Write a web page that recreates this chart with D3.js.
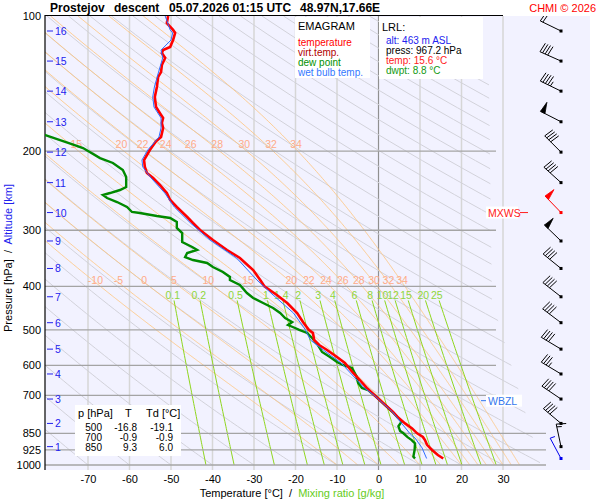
<!DOCTYPE html>
<html>
<head>
<meta charset="utf-8">
<script src="https://cdn.jsdelivr.net/npm/d3@7"></script>
<style>
body { margin: 0; background: #fff; }
text { font-family: Arial, "Liberation Sans", sans-serif; }
</style>
</head>
<body>
<svg id="chart" width="600" height="500"></svg>
<script>
// ---- data ----
var pressureTicks = [100, 200, 300, 400, 500, 600, 700, 850, 925, 1000];
var tempTicks = [-70, -60, -50, -40, -30, -20, -10, 0, 10, 20, 30];

var altKm = [1, 2, 3, 4, 5, 6, 7, 8, 9, 10, 11, 12, 13, 14, 15, 16];
var altP = [910, 808, 713, 627, 552, 482, 422, 365, 317, 274, 235, 201, 172, 147, 126, 108];

var tempP = [100, 103.7, 107.4, 109.1, 113.1, 117.2, 119.1, 120.9, 124, 128.6, 133.3, 136.7, 143.9, 151.5,
  159.5, 164.4, 168.7, 173.1, 177.6, 186, 190, 198.8, 204, 209.3, 216.9, 223.7, 229.5, 237.9, 247.9,
  256.9, 266.3, 280.3, 289.1, 299.6, 315.4, 332, 345.9, 367.9, 387.2, 400, 418.2, 435.7, 458.6, 480.3,
  500, 508.2, 526.8, 540.5, 554.5, 574.8, 592.7, 623.9, 646.7, 673.7, 700, 727.6, 762, 785, 808, 829,
  850, 866, 880, 902, 926, 950, 967.2];
var tempT = [-50.7, -51.0, -49.5, -49.0, -49.5, -50.2, -51.9, -52.2, -51.4, -52.2, -52.4, -53.1, -53.4, -53.9,
  -53.6, -52.7, -51.9, -52.2, -51.9, -52.4, -53.6, -55.1, -55.8, -56.5, -56.3, -55.8, -54.3, -52.7, -51.0,
  -50.2, -48.6, -46.1, -44.7, -43.0, -39.9, -36.5, -33.4, -30.2, -28.5, -27.5, -24.5, -22.0, -19.6, -18.2,
  -16.8, -15.8, -15.5, -14.3, -12.4, -10.0, -8.1, -6.1, -4.5, -2.8, -0.9, 1.1, 3.5, 4.8, 6.4, 8.1,
  9.3, 10.7, 11.2, 11.7, 12.9, 14.3, 15.6];

var dewP = [184, 192.8, 196.8, 207.2, 212.5, 220.3, 228.3, 240.3, 244.1, 247.9, 250.4, 254.3, 259.6, 266.3,
  273.2, 274.6, 278.9, 281.8, 287.6, 296.6, 304.3, 318.7, 326.9, 332, 337.2, 344.2, 349.5, 354.9, 362.3,
  371.7, 381.3, 387.2, 397.3, 414, 424.7, 435.7, 447, 458.6, 470.6, 480.3, 487.7, 495.3, 500, 508.2,
  521.4, 540.5, 560.2, 574.8, 589.7, 598.8, 608.1, 636.9, 656.9, 673.7, 680.7, 700, 727.6, 762, 785,
  800, 820, 840, 850, 867, 880, 895, 926, 958, 967.2];
var dewT = [-80.5, -73.9, -71.2, -67.1, -64.0, -61.6, -60.8, -60.8, -62.3, -64.7, -66.4, -65.4, -63.0, -60.6,
  -59.4, -57.5, -53.4, -50.2, -48.6, -48.6, -47.3, -47.3, -44.9, -43.7, -46.1, -46.6, -44.7, -41.3, -39.9,
  -37.5, -35.8, -35.8, -33.4, -31.7, -30.2, -27.8, -25.4, -23.7, -22.5, -20.8, -21.8, -20.1, -19.1, -17.2,
  -16.0, -14.6, -13.6, -11.7, -10.0, -8.6, -6.4, -5.2, -4.9, -4.0, -2.5, -0.9, 1.0, 3.4, 4.7,
  5.6, 4.8, 5.2, 6.0, 7.0, 8.0, 8.8, 8.7, 8.4, 8.8];

var wetP = [100, 107.4, 109.1, 113.1, 119.1, 124, 133.3, 143.9, 151.5, 159.5, 168.7, 177.6, 186, 198.8,
  209.3, 216.9, 229.5, 247.9, 266.3, 289.1, 315.4, 345.9, 387.2, 418.2, 458.6, 500, 526.8, 554.5,
  592.7, 646.7, 673.7, 700, 762, 802, 836, 850, 871, 916, 967.2];
var wetT = [-51.4, -50.2, -49.6, -50.0, -52.4, -52.0, -53.0, -54.0, -54.4, -54.1, -52.4, -52.4, -52.9, -55.6,
  -57.0, -56.8, -54.8, -51.5, -49.2, -45.3, -40.6, -34.2, -29.3, -25.4, -20.5, -17.6, -16.4, -13.3,
  -9.0, -5.2, -3.4, -1.0, 3.4, 5.3, 6.9, 7.5, 8.8, 10.5, 11.6];

// wind: 16 km ... 1 km, then launch point
var windP = [108, 126, 147, 172, 201, 235, 274, 317, 365, 422, 482, 552, 627, 713, 808, 910, 967.2];
var windDir = [296, 294, 296, 297, 315, 312, 316, 314, 309, 308, 307, 301, 301, 304, 310, 348, 332];
var windSpd = [20, 40, 45, 50, 40, 40, 50, 50, 40, 40, 40, 40, 35, 40, 40, 15, 5];
var mxwsIndex = 6;
var wbzlP = 719;

var thetaW = [-10, -5, 0, 5, 10, 15, 20, 22, 24, 26, 28, 30, 32, 34];
var mixRatios = [0.1, 0.2, 0.5, 1, 1.4, 2, 3, 4, 6, 8, 10, 12, 15, 20, 25];
var dryTheta = d3.range(-80, 260, 10);

var tableP = [500, 700, 850];
var tableT = ["-16.8", "-0.9", "9.3"];
var tableTd = ["-19.1", "-0.9", "6.0"];

var legendNames = ["temperature", "virt.temp.", "dew point", "wet bulb temp."];
var legendColors = ["#ff0000", "#b00000", "#009000", "#3377ff"];

// ---- layout ----
var svg = d3.select("#chart");
var plotL = 45, plotT = 16, plotR = 590, plotB = 470;

var x = d3.scaleLinear().domain([-80, 30]).range([46.5, 503]);
var y = d3.scaleLog().domain([100, 1000]).range([16, 465]);

var defs = svg.append("defs");
defs.append("clipPath").attr("id", "plotClip")
  .append("rect").attr("x", plotL).attr("y", plotT).attr("width", plotR - plotL).attr("height", plotB - plotT);
defs.append("clipPath").attr("id", "bgClip")
  .append("polygon").attr("points", "45,16 488,16 492,300 540,462 540,470 45,470");

svg.append("rect").attr("x", plotL).attr("y", plotT)
  .attr("width", plotR - plotL).attr("height", plotB - plotT)
  .attr("fill", "#f2f2ff");

// isotherms
svg.append("g").selectAll("line")
  .data(tempTicks).enter().append("line")
  .attr("x1", function(d) { return x(d); }).attr("x2", function(d) { return x(d); })
  .attr("y1", plotT).attr("y2", plotB)
  .attr("stroke", function(d) { return d == 0 ? "#909090" : "#d6d6d6"; })
  .attr("stroke-width", function(d) { return d == 0 ? 1.2 : 1.5; });

var bg = svg.append("g").attr("clip-path", "url(#bgClip)");

var line = d3.line()
  .x(function(d) { return x(d[1]); })
  .y(function(d) { return y(d[0]); });

var pLevels = d3.range(100, 1001, 10);

// dry adiabats
bg.selectAll(".dry")
  .data(dryTheta).enter().append("path")
  .attr("class", "dry")
  .attr("fill", "none").attr("stroke", "#d2d2da").attr("stroke-width", 1)
  .attr("d", function(th) {
    return line(pLevels.map(function(p) {
      return [p, (th + 273.15) * Math.pow(p / 1000, 0.2857) - 273.15];
    }));
  });

// pseudoadiabats
function dTdp(p, T) {
  var tc = T - 273.15;
  var es = 6.112 * Math.exp(17.67 * tc / (tc + 243.5));
  var rs = 0.622 * es / (p - es);
  return (287.04 * T + 2.501e6 * rs) /
    (p * (1005.7 + 2.501e6 * 2.501e6 * rs * 0.622 / (287.04 * T * T)));
}
function moistLine(tw) {
  var T = tw + 273.15, p = 1000, dp = -2, pts = [[p, tw]];
  while (p > 100) {
    var k1 = dTdp(p, T), k2 = dTdp(p + dp / 2, T + k1 * dp / 2),
        k3 = dTdp(p + dp / 2, T + k2 * dp / 2), k4 = dTdp(p + dp, T + k3 * dp);
    T += dp * (k1 + 2 * k2 + 2 * k3 + k4) / 6;
    p += dp;
    pts.push([p, T - 273.15]);
  }
  return pts;
}
var moist = thetaW.map(function(tw) { return { tw: tw, pts: moistLine(tw) }; });

bg.selectAll(".moist")
  .data(moist).enter().append("path")
  .attr("class", "moist")
  .attr("fill", "none").attr("stroke", "#ffc47a").attr("stroke-width", 0.8)
  .attr("d", function(d) { return line(d.pts); });

function tAt(pts, p) {
  var best = pts[0];
  pts.forEach(function(q) { if (Math.abs(q[0] - p) < Math.abs(best[0] - p)) best = q; });
  return best[1];
}

// mixing ratio lines
function tdFromW(w, p) {
  var e = w * p / (622 + w);
  var a = Math.log(e / 6.112);
  return 243.5 * a / (17.67 - a);
}
bg.selectAll(".mix")
  .data(mixRatios).enter().append("path")
  .attr("class", "mix")
  .attr("fill", "none").attr("stroke", "#8fd61e").attr("stroke-width", 1)
  .attr("d", function(w) {
    return line(d3.range(430, 1001, 10).map(function(p) { return [p, tdFromW(w, p)]; }));
  });

// isobars
svg.append("g").selectAll("line")
  .data(pressureTicks.slice(1)).enter().append("line")
  .attr("x1", plotL).attr("x2", function(p) { return p >= 850 ? 546 : 496; })
  .attr("y1", function(p) { return y(p); }).attr("y2", function(p) { return y(p); })
  .attr("stroke", "#a4a4a4").attr("stroke-width", 1.3);

// labels of the background lines
var lab = svg.append("g").style("font-size", "10.5px").attr("text-anchor", "middle");
moist.forEach(function(d) {
  var xu = x(tAt(d.pts, 198));
  if (xu > 60 && xu < 490)
    lab.append("text").attr("x", xu).attr("y", 148).attr("fill", "#ffab88").text(d.tw);
  var xl = x(tAt(d.pts, 392));
  lab.append("text").attr("x", xl).attr("y", 284).attr("fill", "#ffab88").text(d.tw);
});
mixRatios.forEach(function(w) {
  lab.append("text").attr("x", x(tdFromW(w, 415))).attr("y", 299)
    .attr("fill", "#8fd63a").text(w);
});

// axis frame
svg.append("line").attr("x1", plotL).attr("x2", 503).attr("y1", 15.5).attr("y2", 15.5)
  .attr("stroke", "#000").attr("stroke-width", 1.2);
svg.append("line").attr("x1", plotL).attr("x2", plotL).attr("y1", 15).attr("y2", plotB)
  .attr("stroke", "#000").attr("stroke-width", 1.2);

// pressure axis
var yAxis = svg.append("g").attr("transform", "translate(" + plotL + ",0)")
  .call(d3.axisLeft(y).tickValues(pressureTicks).tickSize(0).tickPadding(4)
    .tickFormat(function(d) { return String(d); }));
yAxis.select(".domain").remove();
yAxis.selectAll("text").style("font-size", "11px").attr("fill", "#000")
  .style("font-family", "Arial, 'Liberation Sans', sans-serif");

// temperature axis
var xAxis = svg.append("g").attr("transform", "translate(0," + 472 + ")")
  .call(d3.axisBottom(x).tickValues(tempTicks).tickSize(0).tickPadding(3)
    .tickFormat(function(d) { return String(d); }));
xAxis.select(".domain").remove();
xAxis.selectAll("text").style("font-size", "11px").attr("fill", "#000")
  .style("font-family", "Arial, 'Liberation Sans', sans-serif");

// altitude labels
var alt = svg.append("g");
altKm.forEach(function(k, i) {
  var yy = y(altP[i]);
  alt.append("line").attr("x1", 47).attr("x2", 53).attr("y1", yy).attr("y2", yy)
    .attr("stroke", "#2222ee").attr("stroke-width", 1);
  alt.append("text").attr("x", 55).attr("y", yy + 4).style("font-size", "10.5px")
    .attr("fill", "#2222ee").text(k);
});

// profiles
var prof = svg.append("g").attr("clip-path", "url(#plotClip)");
prof.append("path").datum(d3.zip(dewP, dewT))
  .attr("fill", "none").attr("stroke", "#008a00").attr("stroke-width", 2.4)
  .attr("d", line);
prof.append("path").datum(d3.zip(tempP, tempT))
  .attr("fill", "none").attr("stroke", "#ff0000").attr("stroke-width", 2.6)
  .attr("d", line);
prof.append("path").datum(d3.zip(wetP, wetT))
  .attr("fill", "none").attr("stroke", "#2f6cff").attr("stroke-width", 1)
  .attr("d", line);

// wind barbs
var barbs = svg.append("g").attr("clip-path", "url(#plotClip)");
var bx = 561;
windP.forEach(function(p, i) {
  var color = i == mxwsIndex ? "#ff0000" : (i == windP.length - 1 ? "#0000ee" : "#000");
  var y0 = y(p), rad = windDir[i] * Math.PI / 180;
  var ux = Math.sin(rad), uy = -Math.cos(rad), L = 23;
  var x1 = bx + ux * L, y1 = y0 + uy * L;
  // feathers roughly square to the staff
  var fx = -uy - 0.15 * ux, fy = ux - 0.15 * uy, fl = Math.sqrt(fx * fx + fy * fy);
  fx /= fl; fy /= fl;
  barbs.append("line").attr("x1", bx).attr("y1", y0).attr("x2", x1).attr("y2", y1)
    .attr("stroke", color).attr("stroke-width", 1);
  barbs.append("rect").attr("x", bx - 1.5).attr("y", y0 - 1.5).attr("width", 3).attr("height", 3)
    .attr("fill", color);
  var s = windSpd[i], pos = 0;
  while (s >= 50) {
    var ax = x1 - ux * pos, ay = y1 - uy * pos;
    barbs.append("path")
      .attr("d", "M" + ax + "," + ay + "L" + (ax + fx * 11) + "," + (ay + fy * 11) +
        "L" + (ax - ux * 5) + "," + (ay - uy * 5) + "Z")
      .attr("fill", color).attr("stroke", color).attr("stroke-width", 0.8);
    pos += 6; s -= 50;
  }
  while (s >= 10) {
    var cx = x1 - ux * pos, cy = y1 - uy * pos;
    barbs.append("line").attr("x1", cx).attr("y1", cy)
      .attr("x2", cx + fx * 10).attr("y2", cy + fy * 10)
      .attr("stroke", color).attr("stroke-width", 1);
    pos += 2.8; s -= 10;
  }
  if (s >= 5) {
    var hx = x1 - ux * pos, hy = y1 - uy * pos;
    barbs.append("line").attr("x1", hx).attr("y1", hy)
      .attr("x2", hx + fx * 5).attr("y2", hy + fy * 5)
      .attr("stroke", color).attr("stroke-width", 1);
  }
});

// MXWS and WBZL marks
var ym = y(windP[mxwsIndex]);
svg.append("rect").attr("x", 486).attr("y", ym - 6).attr("width", 32).attr("height", 12).attr("fill", "#fff");
svg.append("text").attr("x", 488).attr("y", ym + 4).style("font-size", "10.5px").attr("fill", "#ff2020").text("MXWS");
svg.append("line").attr("x1", 520).attr("x2", 528).attr("y1", ym).attr("y2", ym).attr("stroke", "#ff2020");
var yw = y(wbzlP);
svg.append("rect").attr("x", 486).attr("y", yw - 6).attr("width", 36).attr("height", 12).attr("fill", "#fff");
svg.append("text").attr("x", 488).attr("y", yw + 4).style("font-size", "10.5px").attr("fill", "#3377ee").text("WBZL");
svg.append("line").attr("x1", 481).attr("x2", 486).attr("y1", yw).attr("y2", yw).attr("stroke", "#3377ee");

// legend box
svg.append("rect").attr("x", 295).attr("y", 17).attr("width", 75).attr("height", 61).attr("fill", "#fff");
svg.append("text").attr("x", 298).attr("y", 30).style("font-size", "11px").text("EMAGRAM");
legendNames.forEach(function(n, i) {
  svg.append("text").attr("x", 298).attr("y", 45.5 + i * 10).style("font-size", "10px")
    .attr("fill", legendColors[i]).text(n);
});

// launch point box
svg.append("rect").attr("x", 379).attr("y", 17).attr("width", 104).attr("height", 62).attr("fill", "#fff");
svg.append("text").attr("x", 382).attr("y", 31).style("font-size", "11px").text("LRL:");
var lrl = [["alt: 463 m ASL", "#2222ee"], ["press: 967.2 hPa", "#000"],
  ["temp: 15.6 °C", "#ff2020"], ["dwpt: 8.8 °C", "#119911"]];
lrl.forEach(function(r, i) {
  svg.append("text").attr("x", 386).attr("y", 43.5 + i * 10.2).style("font-size", "10px")
    .attr("fill", r[1]).text(r[0]);
});

// standard levels table
svg.append("rect").attr("x", 75).attr("y", 405).attr("width", 106).attr("height", 51).attr("fill", "#fff");
var tb = svg.append("g").style("font-size", "11px");
tb.append("text").attr("x", 78).attr("y", 417).text("p [hPa]");
tb.append("text").attr("x", 125).attr("y", 417).text("T");
tb.append("text").attr("x", 146).attr("y", 417).text("Td [°C]");
tableP.forEach(function(p, i) {
  var yy = 430.5 + i * 10;
  tb.append("text").attr("x", 102).attr("y", yy).attr("text-anchor", "end").style("font-size", "10px").text(p);
  tb.append("text").attr("x", 137).attr("y", yy).attr("text-anchor", "end").style("font-size", "10px").text(tableT[i]);
  tb.append("text").attr("x", 173).attr("y", yy).attr("text-anchor", "end").style("font-size", "10px").text(tableTd[i]);
});

// titles
var title = svg.append("g").style("font-size", "12px").style("font-weight", "bold");
title.append("text").attr("x", 50).attr("y", 12).text("Prostejov");
title.append("text").attr("x", 114).attr("y", 12).text("descent");
title.append("text").attr("x", 169).attr("y", 12).text("05.07.2026 01:15 UTC");
title.append("text").attr("x", 300).attr("y", 12).text("48.97N,17.66E");
svg.append("text").attr("x", 596).attr("y", 12).attr("text-anchor", "end")
  .style("font-size", "11px").attr("fill", "#ff0000").text("CHMI © 2026");

var xt = svg.append("text").attr("x", 292).attr("y", 497).attr("text-anchor", "middle")
  .style("font-size", "11px").style("white-space", "pre");
xt.append("tspan").attr("fill", "#000").text("Temperature [°C]  /  ");
xt.append("tspan").attr("fill", "#66cc22").text("Mixing ratio [g/kg]");

var yt = svg.append("text").attr("transform", "translate(12,258) rotate(-90)")
  .attr("text-anchor", "middle").style("font-size", "11px").style("white-space", "pre");
yt.append("tspan").attr("fill", "#000").text("Pressure [hPa]  /  ");
yt.append("tspan").attr("fill", "#2222ee").text("Altitude [km]");
</script>
</body>
</html>
